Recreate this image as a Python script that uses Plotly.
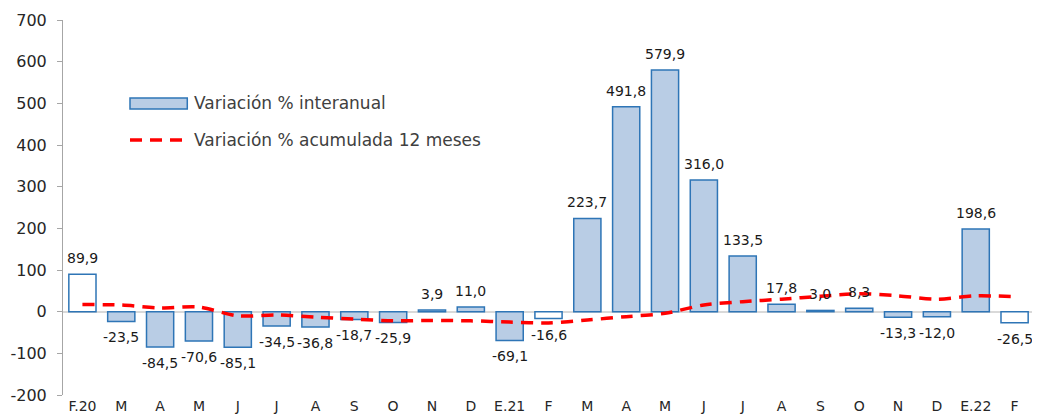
import plotly.graph_objects as go

categories = ["F.20", "M", "A", "M", "J", "J", "A", "S", "O", "N", "D", "E.21",
              "F", "M", "A", "M", "J", "J", "A", "S", "O", "N", "D", "E.22", "F"]
interanual = [89.9, -23.5, -84.5, -70.6, -85.1, -34.5, -36.8, -18.7, -25.9, 3.9, 11.0, -69.1,
              -16.6, 223.7, 491.8, 579.9, 316.0, 133.5, 17.8, 3.0, 8.3, -13.3, -12.0, 198.6, -26.5]
acumulada = [17, 16, 9, 11, -10, -8, -13, -18, -22, -21, -22, -25,
             -27, -20, -12, -4, 16, 24, 30, 37, 43, 38, 30, 38, 36]
white_bars = [0, 12, 24]  # February bars drawn without fill
y_ticks = [-200, -100, 0, 100, 200, 300, 400, 500, 600, 700]
y_tick_labels = ["-200", "-100", "0", "100", "200", "300", "400", "500", "600", "700"]

x = list(range(len(categories)))
fills = ["#FFFFFF" if i in white_bars else "#B9CDE5" for i in x]

FONT = "DejaVu Sans"
fig = go.Figure()
fig.add_trace(go.Bar(
    x=x, y=interanual, marker=dict(color=fills, line=dict(color="#2E75B6", width=1.5)),
    showlegend=False, hoverinfo="skip"))
fig.add_trace(go.Scatter(
    x=x, y=acumulada, mode="lines", line=dict(color="#FF0000", width=3.5, dash="12px,8px", shape="spline", smoothing=0.8),
    showlegend=False, hoverinfo="skip"))

for xi, v in zip(x, interanual):
    fig.add_annotation(x=xi, y=v, text=f"{v:.1f}".replace(".", ","), showarrow=False,
                       yanchor="bottom" if v >= 0 else "top", yshift=6 if v >= 0 else -6,
                       font=dict(family=FONT, size=14, color="#1a1a1a"))

# manual legend
fig.add_shape(type="rect", xref="paper", yref="paper", x0=0.069, x1=0.128, y0=0.763, y1=0.792,
              fillcolor="#B9CDE5", line=dict(color="#2E75B6", width=1.5))
fig.add_shape(type="line", xref="paper", yref="paper", x0=0.069, x1=0.128, y0=0.68, y1=0.68,
              line=dict(color="#FF0000", width=3.5, dash="12px,8px"))
fig.add_annotation(xref="paper", yref="paper", x=0.133, y=0.7775, xanchor="left", yanchor="middle",
                   text="Variación % interanual", showarrow=False, font=dict(family=FONT, size=17, color="#404040"))
fig.add_annotation(xref="paper", yref="paper", x=0.133, y=0.68, xanchor="left", yanchor="middle",
                   text="Variación % acumulada 12 meses", showarrow=False, font=dict(family=FONT, size=17, color="#404040"))

fig.update_layout(
    width=1032, height=412, margin=dict(l=55, r=6, t=12, b=25),
    paper_bgcolor="white", plot_bgcolor="white", bargap=0.3,
    font=dict(family=FONT, color="#262626"),
)
fig.update_xaxes(tickvals=x, ticktext=categories, range=[-0.5, len(categories) - 0.5],
                 showgrid=False, zeroline=False, showline=False, ticks="", automargin=False,
                 tickfont=dict(family=FONT, size=14, color="#262626"), ticklabelstandoff=1)
fig.update_yaxes(range=[-200, 700], tickvals=y_ticks, ticktext=y_tick_labels, showgrid=False,
                 zeroline=True, zerolinecolor="#D9D9D9",
                 zerolinewidth=2, showline=True, linecolor="#A6A6A6", linewidth=1, ticks="outside",
                 ticklen=5, tickcolor="#A6A6A6", tickfont=dict(family=FONT, size=16, color="#262626"),
                 ticklabelstandoff=7, automargin=False)
fig.update_traces(cliponaxis=False, selector=dict(type="bar"))

fig.write_html("out.html")
